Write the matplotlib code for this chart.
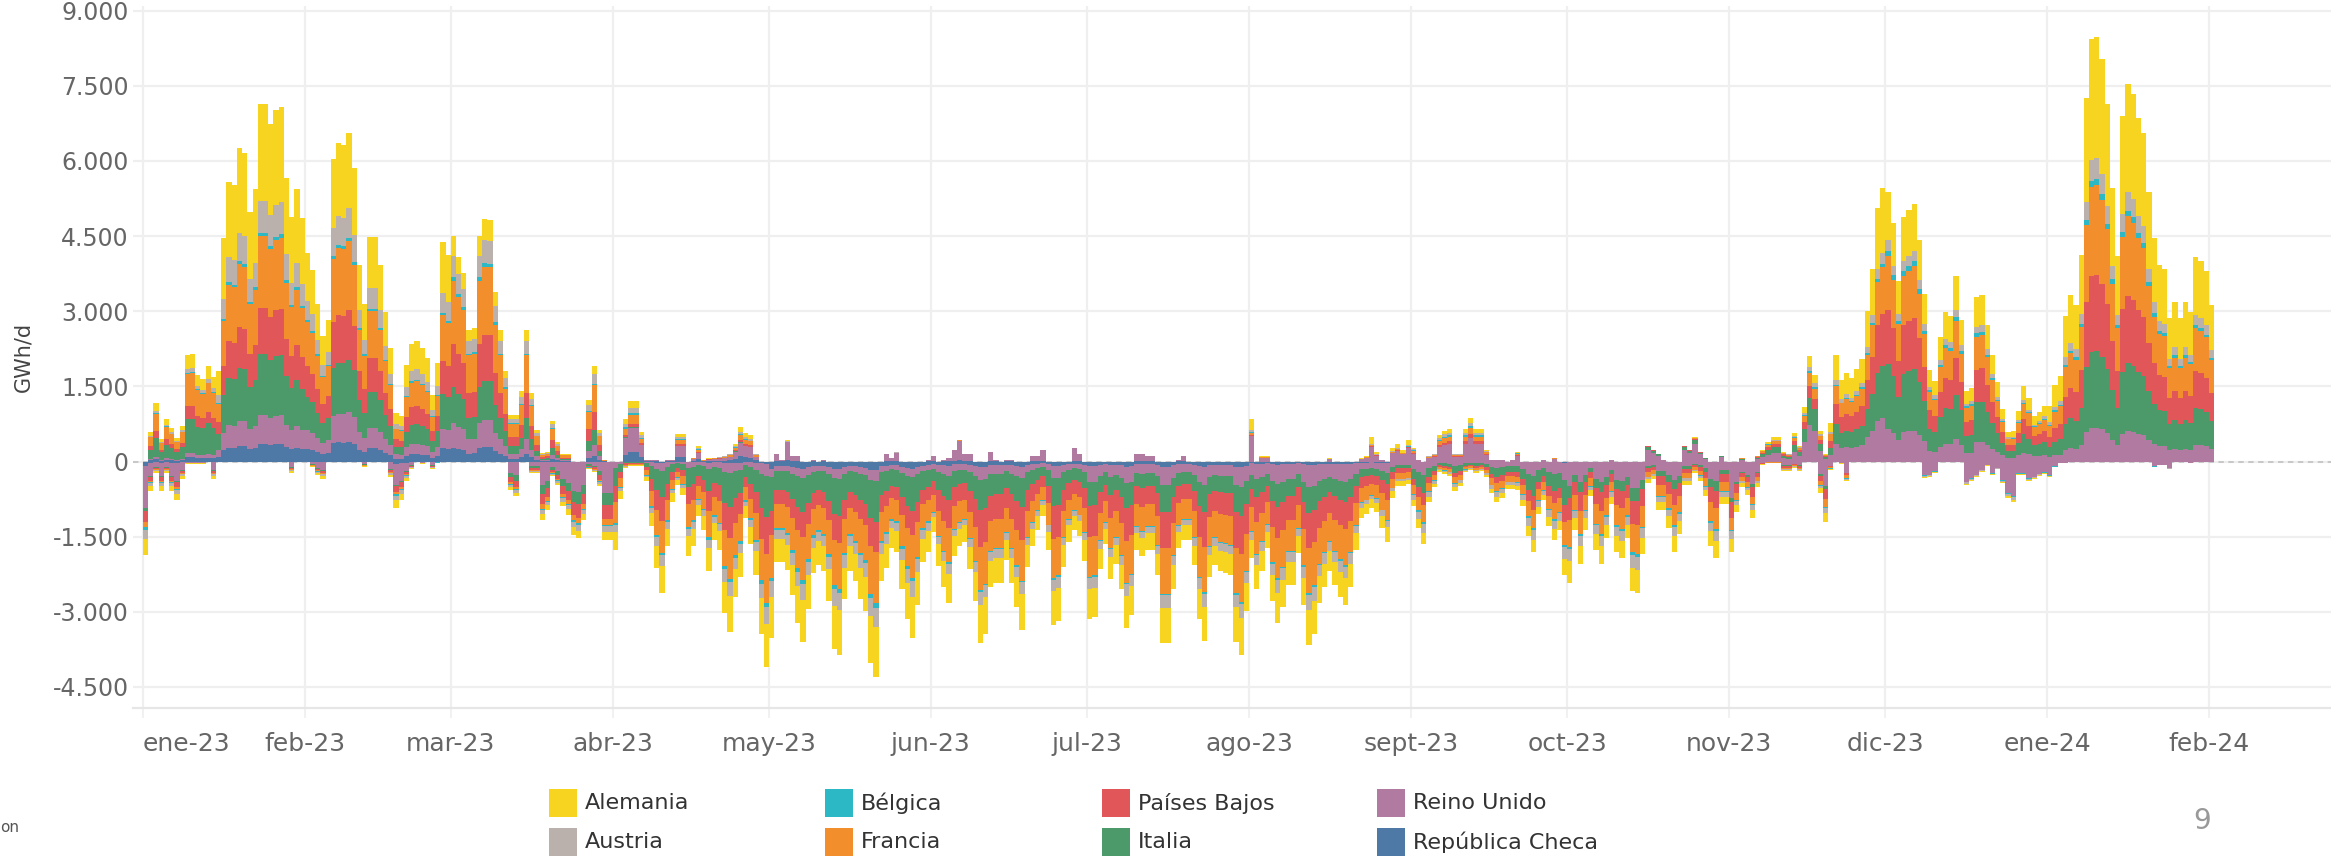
import matplotlib
matplotlib.use("Agg")
import matplotlib.pyplot as plt
import matplotlib.patches as mpatches
import matplotlib.dates as mdates
import numpy as np
import pandas as pd

# Países, apilados desde el cero hacia fuera
countries = ["República Checa", "Reino Unido", "Italia", "Países Bajos",
             "Francia", "Bélgica", "Austria", "Alemania"]
colors = ["#4E79A7", "#B07AA1", "#4C9A6A", "#E15759",
          "#F28E2B", "#2CB8C4", "#BAB0AC", "#F7D420"]

# Parte positiva diaria total (GWh/d), 1-ene-23 .. 1-feb-24
pos_total = (
    # ene-23
    [0, 587, 1167, 453, 847, 673, 467, 713, 2133, 2147, 1733, 1653, 1900, 1680, 1813, 4453,
     5587, 5520, 6253, 6167, 4980, 5433, 7133, 7133, 6733, 7013, 7087, 5667, 4887, 5433, 4853]
    # feb-23
    + [4167, 3820, 3153, 2513, 2833, 6047, 6367, 6320, 6567, 5867, 3933, 3153, 4487, 4487,
       3933, 2987, 2267, 967, 913, 1933, 2353, 2400, 2267, 2067, 1333, 1967, 4373, 4133]
    # mar-23
    + [4493, 4093, 3773, 2633, 2667, 4493, 4833, 4820, 3393, 2633, 1813, 933, 933, 1413, 2633,
       1367, 633, 167, 193, 813, 387, 153, 153, 0, 0, 0, 1233, 1900, 633, 33, 0]
    # abr-23
    + [0, 0, 853, 1213, 1213, 593, 40, 40, 40, 0, 40, 40, 553, 553, 0, 80, 307, 33, 67, 80,
       100, 120, 160, 360, 680, 560, 520, 160, 0, 0]
    # may-23
    + [0, 160, 40, 440, 120, 120, 0, 0, 40, 0, 40, 0, 0, 0, 0, 0, 0, 0, 0, 0, 0, 0, 160, 80,
       200, 0, 0, 0, 0, 0, 40]
    # jun-23
    + [120, 0, 40, 80, 240, 440, 160, 160, 0, 0, 0, 200, 40, 0, 40, 40, 0, 0, 0, 120, 120, 240,
       0, 0, 0, 0, 0, 280, 160, 0]
    # jul-23
    + [0, 0, 0, 0, 0, 0, 0, 0, 0, 160, 160, 120, 120, 0, 0, 0, 0, 40, 120, 0, 0, 0, 0, 0, 0,
       0, 0, 0, 0, 0, 0]
    # ago-23
    + [840, 0, 120, 120, 0, 0, 0, 0, 0, 0, 0, 0, 0, 0, 0, 80, 0, 0, 0, 0, 0, 80, 120, 480, 200,
       40, 0, 280, 360, 240, 440]
    # sept-23
    + [280, 40, 0, 120, 160, 520, 600, 640, 160, 160, 640, 860, 640, 640, 240, 40, 40, 40, 0,
       40, 200, 0, 0, 0, 0, 40, 0, 80, 0, 0]
    # oct-23
    + [0, 0, 0, 0, 0, 0, 0, 0, 40, 0, 0, 0, 0, 0, 0, 320, 240, 160, 40, 0, 0, 0, 320, 240, 480,
       200, 80, 0, 0, 120, 0]
    # nov-23
    + [0, 0, 80, 0, 0, 120, 240, 400, 480, 480, 200, 160, 560, 320, 1087, 2100, 1733, 600, 153,
       767, 2133, 1633, 1767, 1667, 1847, 2053, 3000, 3853, 5053, 5467]
    # dic-23
    + [5387, 4767, 3600, 4880, 5013, 5133, 4413, 3353, 1820, 1613, 2480, 2987, 2913, 3700, 2833,
       1413, 1467, 3280, 3320, 2733, 2133, 1580, 1047, 587, 600, 1013, 1500, 1267, 900, 980, 1100]
    # ene-24
    + [1100, 1533, 1700, 2913, 3320, 3133, 4133, 7253, 8433, 8480, 8033, 7133, 5467, 4100, 6900,
       7533, 7333, 6853, 6567, 5387, 4453, 3920, 3853, 2867, 3187, 2867, 3187, 2987, 4093, 4013, 3813]
    # feb-24
    + [3120]
)

# Parte negativa diaria total (GWh/d, en valor absoluto)
neg_total = (
    # ene-23
    [1860, 593, 227, 593, 227, 593, 773, 347, 40, 40, 40, 40, 0, 353, 0, 0, 0, 0, 0, 0, 0, 0,
     0, 0, 0, 0, 0, 0, 233, 0, 0]
    # feb-23
    + [0, 113, 273, 353, 0, 0, 0, 0, 0, 0, 0, 113, 0, 0, 0, 0, 313, 933, 773, 393, 153, 0, 40,
       0, 153, 27, 0, 0]
    # mar-23
    + [0, 0, 0, 0, 0, 0, 0, 0, 0, 0, 0, 560, 693, 0, 0, 233, 233, 1173, 973, 293, 473, 893,
       1060, 1460, 1533, 1173, 147, 200, 493, 1573, 1573]
    # abr-23
    + [1773, 740, 133, 93, 93, 93, 393, 1293, 2133, 2633, 1693, 807, 460, 660, 1893, 1693, 1093,
       1373, 2193, 1560, 1767, 3033, 3393, 2713, 2313, 1127, 1647, 2273, 3440, 4093]
    # may-23
    + [3513, 2013, 2013, 2160, 2673, 3233, 3593, 2953, 2233, 2060, 2193, 2793, 3733, 3853, 2753,
       2193, 2393, 2753, 2993, 4013, 4293, 2393, 2133, 1733, 1813, 2553, 3153, 3513, 2873, 2013, 1813]
    # jun-23
    + [1413, 2093, 2513, 2833, 1893, 1693, 1613, 2153, 2793, 3613, 3433, 2513, 2433, 2433, 1973,
       2433, 2913, 3353, 2113, 1693, 1373, 1093, 1773, 3273, 3193, 2113, 1613, 1373, 1493, 1993]
    # jul-23
    + [3153, 3113, 2153, 1653, 2353, 2053, 2553, 3313, 3073, 1773, 1893, 1773, 1773, 2273, 3613,
       3613, 2553, 1733, 1573, 1573, 2073, 3153, 3573, 2313, 2073, 2193, 2233, 2273, 3593, 3853, 2993]
    # ago-23
    + [1933, 2553, 2193, 1733, 2793, 3233, 2913, 2473, 2473, 1833, 2873, 3653, 3433, 2833, 2513,
       2193, 2473, 2713, 2873, 2513, 1773, 1133, 1053, 933, 1013, 1333, 1613, 733, 480, 480, 453]
    # sept-23
    + [893, 1333, 1653, 813, 513, 200, 240, 280, 593, 493, 213, 173, 227, 193, 307, 633, 813, 733,
       553, 553, 573, 893, 1493, 1813, 1053, 773, 1293, 1573, 1373, 2273]
    # oct-23
    + [2433, 1373, 2053, 1373, 693, 1773, 2053, 1533, 853, 1813, 1933, 1533, 2593, 2633, 1853, 427,
       347, 973, 973, 1333, 1813, 1453, 467, 467, 227, 393, 693, 1693, 1933, 853, 853]
    # nov-23
    + [1813, 1013, 513, 673, 1133, 513, 67, 27, 27, 27, 193, 193, 120, 193, 0, 0, 0, 633, 1213,
       160, 0, 40, 393, 0, 0, 0, 0, 0, 0, 0]
    # dic-23
    + [0, 0, 0, 0, 0, 0, 0, 327, 313, 227, 0, 0, 0, 0, 0, 473, 393, 313, 200, 80, 273, 153, 433,
       733, 813, 273, 273, 393, 353, 293, 253]
    # ene-24
    + [313, 113, 33, 33, 0, 0, 0, 0, 0, 0, 0, 0, 0, 0, 0, 0, 0, 0, 0, 0, 113, 73, 73, 153, 0, 0,
       0, 33, 0, 0, 0]
    # feb-24
    + [0]
)

# Reparto aproximado por país en cada tramo (orden de countries)
period_start = ["2023-01-01", "2023-01-15", "2023-02-01", "2023-03-01", "2023-04-01",
                "2023-05-01", "2023-06-01", "2023-07-01", "2023-08-01", "2023-09-01",
                "2023-10-01", "2023-11-01", "2023-11-20", "2023-12-01", "2024-01-01"]
pos_share = [
    [.04, .04, .32, .12, .30, .01, .04, .13],
    [.05, .08, .17, .13, .20, .01, .09, .27],
    [.06, .09, .16, .15, .21, .01, .09, .23],
    [.06, .11, .16, .19, .28, .015, .095, .085],
    [.15, .40, .02, .05, .15, .03, .08, .12],
    [.05, .85, 0, 0, 0, 0, .02, .08],
    [.05, .90, 0, 0, .02, 0, 0, .03],
    [.05, .90, 0, 0, .02, 0, 0, .03],
    [0, .60, 0, .04, .04, .02, .05, .25],
    [0, .55, 0, .08, .15, .04, .08, .10],
    [0, .75, .15, .05, .03, 0, .01, .01],
    [0, .35, .25, .12, .12, .02, .04, .10],
    [0, .16, .19, .19, .17, .01, .04, .24],
    [0, .12, .24, .20, .20, .02, .04, .18],
    [0, .08, .18, .18, .21, .015, .05, .285],
]
neg_share = [
    [.05, .45, .03, .12, .05, .03, .10, .17],
    [.05, .45, .03, .12, .05, .03, .10, .17],
    [.05, .45, .03, .12, .05, .03, .10, .17],
    [0, .40, .15, .18, .07, .02, .08, .10],
    [.01, .06, .20, .18, .24, .02, .08, .21],
    [.04, .05, .19, .14, .24, .02, .09, .23],
    [.03, .07, .17, .20, .24, .01, .07, .21],
    [.03, .10, .15, .20, .25, .01, .07, .19],
    [.02, .12, .14, .19, .25, .01, .08, .19],
    [.01, .15, .22, .15, .20, .02, .11, .14],
    [0, .20, .10, .18, .22, .02, .10, .18],
    [0, .40, .05, .17, .13, .02, .08, .15],
    [0, .60, 0, .10, .15, .02, .05, .08],
    [0, .85, 0, 0, 0, .03, .06, .06],
    [0, .85, 0, 0, 0, .05, .05, .05],
]

month_labels = ["ene-23", "feb-23", "mar-23", "abr-23", "may-23", "jun-23", "jul-23",
                "ago-23", "sept-23", "oct-23", "nov-23", "dic-23", "ene-24", "feb-24"]
y_ticks = [-4500, -3000, -1500, 0, 1500, 3000, 4500, 6000, 7500, 9000]

# ---- preparar datos ----
dates = pd.date_range("2023-01-01", "2024-02-01", freq="D")
x = mdates.date2num(dates.to_pydatetime())
pos = np.array(pos_total, float)
neg = np.array(neg_total, float)
starts = pd.to_datetime(period_start)
idx = np.searchsorted(starts.values, dates.values, side="right") - 1
ps = np.array(pos_share, float)
ps = ps / ps.sum(axis=1, keepdims=True)
ns = np.array(neg_share, float)
ns = ns / ns.sum(axis=1, keepdims=True)
pos_parts = pos[:, None] * ps[idx]
neg_parts = -neg[:, None] * ns[idx]

# ---- figura ----
W, H = 2331, 856
fig = plt.figure(figsize=(W / 100, H / 100), dpi=100)
ax_l, ax_r, ax_t, ax_b = 133, 2331, 6, 708
ax = fig.add_axes([ax_l / W, 1 - ax_b / H, (ax_r - ax_l) / W, (ax_b - ax_t) / H])

grid_c = "#EFEFEF"
ax.axhline(0, color="#C4C4C4", lw=1.3, ls=(0, (3, 2.5)), zorder=1)

b_pos = np.zeros(len(x))
b_neg = np.zeros(len(x))
for i, c in enumerate(colors):
    ax.bar(x, pos_parts[:, i], width=1.0, bottom=b_pos, align="edge",
           color=c, linewidth=0, antialiased=False, zorder=2)
    ax.bar(x, neg_parts[:, i], width=1.0, bottom=b_neg, align="edge",
           color=c, linewidth=0, antialiased=False, zorder=2)
    b_pos += pos_parts[:, i]
    b_neg += neg_parts[:, i]

month_ticks = mdates.date2num(pd.date_range("2023-01-01", "2024-02-01", freq="MS").to_pydatetime())
ax.set_xticks(month_ticks)
ax.set_xticklabels(month_labels, fontsize=18, color="#666666")
ax.get_xticklabels()[0].set_horizontalalignment("left")
ax.set_xlim(x[0] - 1.92, x[0] + 419.4)
ax.set_ylim(-4920, 9094)
ax.set_yticks(y_ticks)
ax.set_yticklabels([f"{v:,}".replace(",", ".") for v in y_ticks], fontsize=17, color="#666666")
ax.set_ylabel("GWh/d", fontsize=15, color="#444444", labelpad=14)

ax.grid(True, color=grid_c, lw=1.6, zorder=0)
ax.set_axisbelow(True)
for s in ["top", "right", "left"]:
    ax.spines[s].set_visible(False)
ax.spines["bottom"].set_color("#E6E6E6")
ax.spines["bottom"].set_linewidth(1.6)
ax.tick_params(axis="x", length=7, width=1.2, color=grid_c, pad=10)
ax.tick_params(axis="y", length=0, pad=3)

# ---- leyenda (dibujada a mano, 4 columnas x 2 filas) ----
legend_rows = [["Alemania", "Bélgica", "Países Bajos", "Reino Unido"],
               ["Austria", "Francia", "Italia", "República Checa"]]
col_x = [549, 825, 1102, 1377]
row_y = [789, 828]
sq = 28
for r, names in enumerate(legend_rows):
    for cidx, name in enumerate(names):
        c = colors[countries.index(name)]
        fig.add_artist(mpatches.Rectangle((col_x[cidx] / W, 1 - (row_y[r] + sq) / H),
                                          sq / W, sq / H, transform=fig.transFigure,
                                          facecolor=c, edgecolor="none"))
        fig.text((col_x[cidx] + 36) / W, 1 - (row_y[r] + sq / 2) / H, name,
                 fontsize=16, color="#333333", ha="left", va="center")

fig.text(2202 / W, 1 - 821 / H, "9", fontsize=20, color="#999999", ha="center", va="center")
fig.text(0, 1 - 828 / H, "on", fontsize=11, color="#555555", ha="left", va="center")

fig.savefig("out.png", dpi=100)
